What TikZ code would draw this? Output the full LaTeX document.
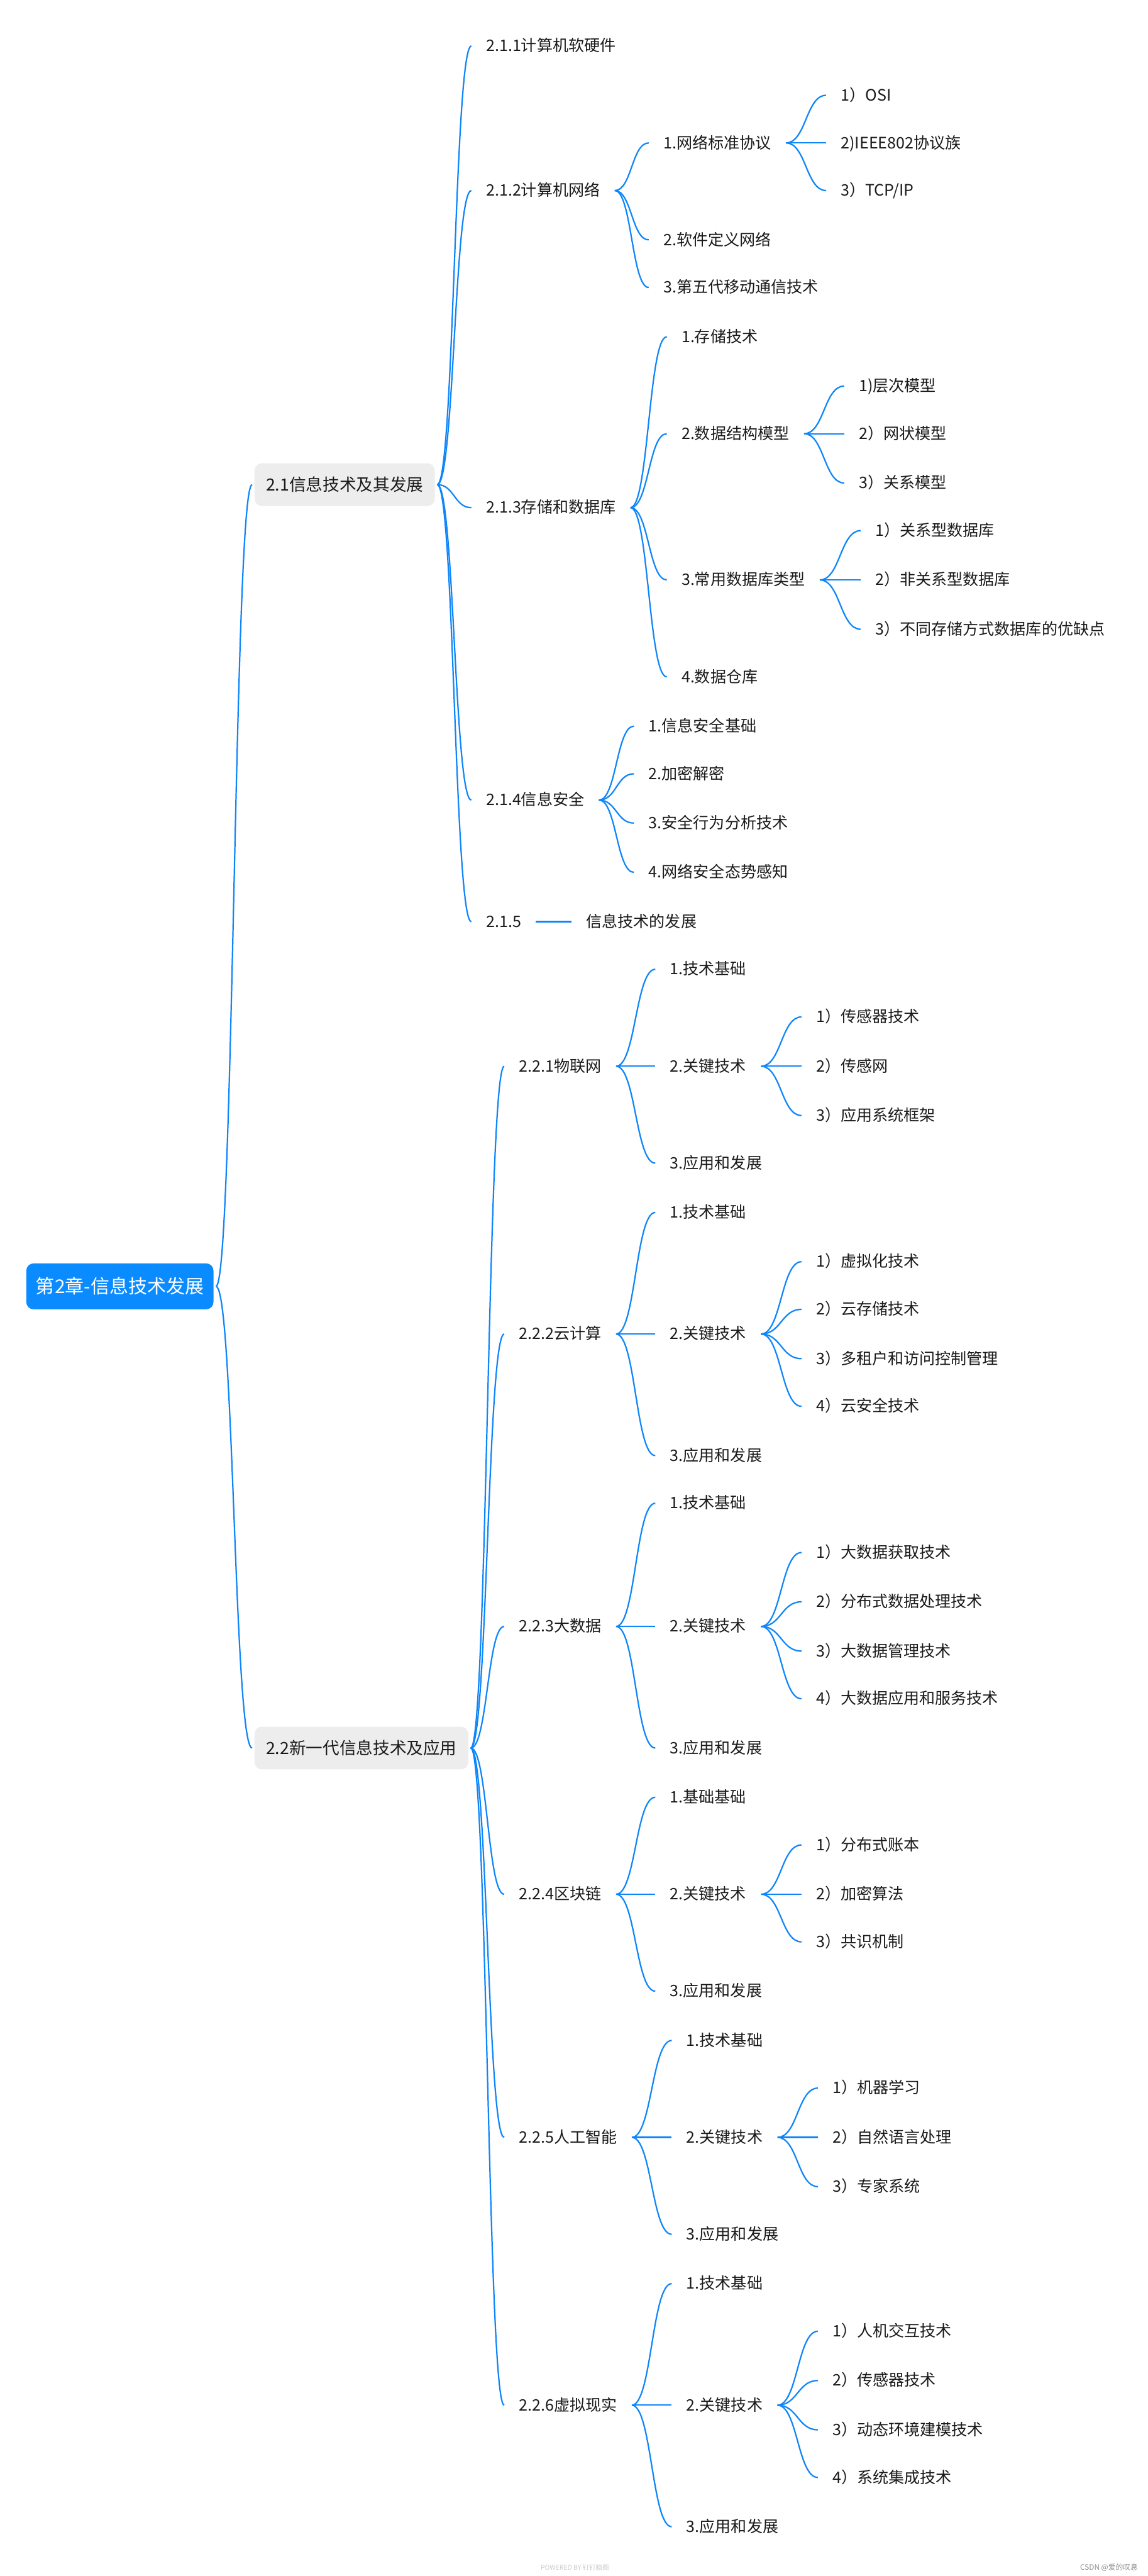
\documentclass[tikz,border=0pt]{standalone}
\usepackage{fontspec}
\setmainfont{Noto Sans CJK SC}
\usetikzlibrary{calc}
\definecolor{mmblue}{HTML}{0E86FA}
\definecolor{rootblue}{HTML}{0A8BFF}
\definecolor{boxgray}{HTML}{EDEDED}
\definecolor{txt}{HTML}{1A1A1A}
\newcommand\mmlink[2]{\draw[link] let \p1=(#1.east), \p2=(#2.west), \p3=($(\p1)!0.5!(\p2)$) in (\p1) .. controls (\x3,\y1) and (\x3,\y2) .. (\p2);}
\begin{document}
\begin{tikzpicture}[x=1pt,y=-1pt,
  link/.style={draw=mmblue,line width=0.85pt},
  rootnode/.style={fill=rootblue,text=white,rounded corners=4.5pt,font=\fontsize{11.5}{13}\selectfont,minimum width=114pt,minimum height=28pt,inner sep=0pt,anchor=west,outer sep=1.5pt,xshift=-1.5pt},
  topic/.style={fill=boxgray,text=txt,rounded corners=4.5pt,font=\fontsize{10.2}{13}\selectfont,minimum height=26pt,inner xsep=7pt,inner ysep=0pt,anchor=west,outer sep=1.5pt,xshift=-1.5pt},
  tx/.style={text=txt,font=\fontsize{9.6}{12}\selectfont,inner xsep=0pt,inner ysep=1pt,outer xsep=9pt,outer ysep=0pt,anchor=west,xshift=-9pt,text height=8.2pt,text depth=1.5pt},
]
\fill[white] (0,0) rectangle (699,1568);
\useasboundingbox (0,0) rectangle (699,1568);

% root and level 1
\node[rootnode] (r) at (16,783) {第2章-信息技术发展};
\node[topic] (a) at (155,295) {2.1信息技术及其发展};
\node[topic] (b) at (155,1064) {2.2新一代信息技术及应用};

% 2.1 branch
\node[tx] (a1) at (296,28) {2.1.1计算机软硬件};
\node[tx] (a2) at (296,116) {2.1.2计算机网络};
\node[tx] (a3) at (296,309) {2.1.3存储和数据库};
\node[tx] (a4) at (296,487) {2.1.4信息安全};
\node[tx] (a5) at (296,561) {2.1.5};
\node[tx] (a5a) at (357,561) {信息技术的发展};

\node[tx] (a21) at (404,87) {1.网络标准协议};
\node[tx] (a22) at (404,146) {2.软件定义网络};
\node[tx] (a23) at (404,175) {3.第五代移动通信技术};
\node[tx] (a211) at (512,58) {1）OSI};
\node[tx] (a212) at (512,87) {2)IEEE802协议族};
\node[tx] (a213) at (512,116) {3）TCP/IP};

\node[tx] (a31) at (415,205) {1.存储技术};
\node[tx] (a32) at (415,264) {2.数据结构模型};
\node[tx] (a33) at (415,353) {3.常用数据库类型};
\node[tx] (a34) at (415,412) {4.数据仓库};
\node[tx] (a321) at (523,235) {1)层次模型};
\node[tx] (a322) at (523,264) {2）网状模型};
\node[tx] (a323) at (523,294) {3）关系模型};
\node[tx] (a331) at (533,323) {1）关系型数据库};
\node[tx] (a332) at (533,353) {2）非关系型数据库};
\node[tx] (a333) at (533,383) {3）不同存储方式数据库的优缺点};

\node[tx] (a41) at (395,442) {1.信息安全基础};
\node[tx] (a42) at (395,471) {2.加密解密};
\node[tx] (a43) at (395,501) {3.安全行为分析技术};
\node[tx] (a44) at (395,531) {4.网络安全态势感知};

% 2.2 branch
\node[tx] (b1) at (316,649) {2.2.1物联网};
\node[tx] (b2) at (316,812) {2.2.2云计算};
\node[tx] (b3) at (316,990) {2.2.3大数据};
\node[tx] (b4) at (316,1153) {2.2.4区块链};
\node[tx] (b5) at (316,1301) {2.2.5人工智能};
\node[tx] (b6) at (316,1464) {2.2.6虚拟现实};

\node[tx] (b11) at (408,590) {1.技术基础};
\node[tx] (b12) at (408,649) {2.关键技术};
\node[tx] (b13) at (408,708) {3.应用和发展};
\node[tx] (b121) at (497,619) {1）传感器技术};
\node[tx] (b122) at (497,649) {2）传感网};
\node[tx] (b123) at (497,679) {3）应用系统框架};

\node[tx] (b21) at (408,738) {1.技术基础};
\node[tx] (b22) at (408,812) {2.关键技术};
\node[tx] (b23) at (408,886) {3.应用和发展};
\node[tx] (b221) at (497,768) {1）虚拟化技术};
\node[tx] (b222) at (497,797) {2）云存储技术};
\node[tx] (b223) at (497,827) {3）多租户和访问控制管理};
\node[tx] (b224) at (497,856) {4）云安全技术};

\node[tx] (b31) at (408,915) {1.技术基础};
\node[tx] (b32) at (408,990) {2.关键技术};
\node[tx] (b33) at (408,1064) {3.应用和发展};
\node[tx] (b321) at (497,945) {1）大数据获取技术};
\node[tx] (b322) at (497,975) {2）分布式数据处理技术};
\node[tx] (b323) at (497,1005) {3）大数据管理技术};
\node[tx] (b324) at (497,1034) {4）大数据应用和服务技术};

\node[tx] (b41) at (408,1094) {1.基础基础};
\node[tx] (b42) at (408,1153) {2.关键技术};
\node[tx] (b43) at (408,1212) {3.应用和发展};
\node[tx] (b421) at (497,1123) {1）分布式账本};
\node[tx] (b422) at (497,1153) {2）加密算法};
\node[tx] (b423) at (497,1182) {3）共识机制};

\node[tx] (b51) at (418,1242) {1.技术基础};
\node[tx] (b52) at (418,1301) {2.关键技术};
\node[tx] (b53) at (418,1360) {3.应用和发展};
\node[tx] (b521) at (507,1271) {1）机器学习};
\node[tx] (b522) at (507,1301) {2）自然语言处理};
\node[tx] (b523) at (507,1331) {3）专家系统};

\node[tx] (b61) at (418,1390) {1.技术基础};
\node[tx] (b62) at (418,1464) {2.关键技术};
\node[tx] (b63) at (418,1538) {3.应用和发展};
\node[tx] (b621) at (507,1419) {1）人机交互技术};
\node[tx] (b622) at (507,1449) {2）传感器技术};
\node[tx] (b623) at (507,1479) {3）动态环境建模技术};
\node[tx] (b624) at (507,1508) {4）系统集成技术};

% watermarks
\node[font=\fontsize{4.5}{5}\selectfont,text=black!45,anchor=east,inner sep=0pt] (wm1) at (693,1563) {CSDN @爱的叹息};
\node[font=\fontsize{4}{5}\selectfont,text=black!20,inner sep=0pt] (wm2) at (350,1563) {POWERED BY 钉钉脑图};

% connectors
\mmlink{r}{a}\mmlink{r}{b}
\foreach \c in {a1,a2,a3,a4,a5} {\mmlink{a}{\c}}
\mmlink{a5}{a5a}
\foreach \c in {a21,a22,a23} {\mmlink{a2}{\c}}
\foreach \c in {a211,a212,a213} {\mmlink{a21}{\c}}
\foreach \c in {a31,a32,a33,a34} {\mmlink{a3}{\c}}
\foreach \c in {a321,a322,a323} {\mmlink{a32}{\c}}
\foreach \c in {a331,a332,a333} {\mmlink{a33}{\c}}
\foreach \c in {a41,a42,a43,a44} {\mmlink{a4}{\c}}
\foreach \c in {b1,b2,b3,b4,b5,b6} {\mmlink{b}{\c}}
\foreach \q in {b1,b2,b3,b4,b5,b6} {\foreach \k in {1,2,3} {\mmlink{\q}{\q\k}}}
\foreach \c in {b121,b122,b123} {\mmlink{b12}{\c}}
\foreach \c in {b221,b222,b223,b224} {\mmlink{b22}{\c}}
\foreach \c in {b321,b322,b323,b324} {\mmlink{b32}{\c}}
\foreach \c in {b421,b422,b423} {\mmlink{b42}{\c}}
\foreach \c in {b521,b522,b523} {\mmlink{b52}{\c}}
\foreach \c in {b621,b622,b623,b624} {\mmlink{b62}{\c}}
\end{tikzpicture}
\end{document}
